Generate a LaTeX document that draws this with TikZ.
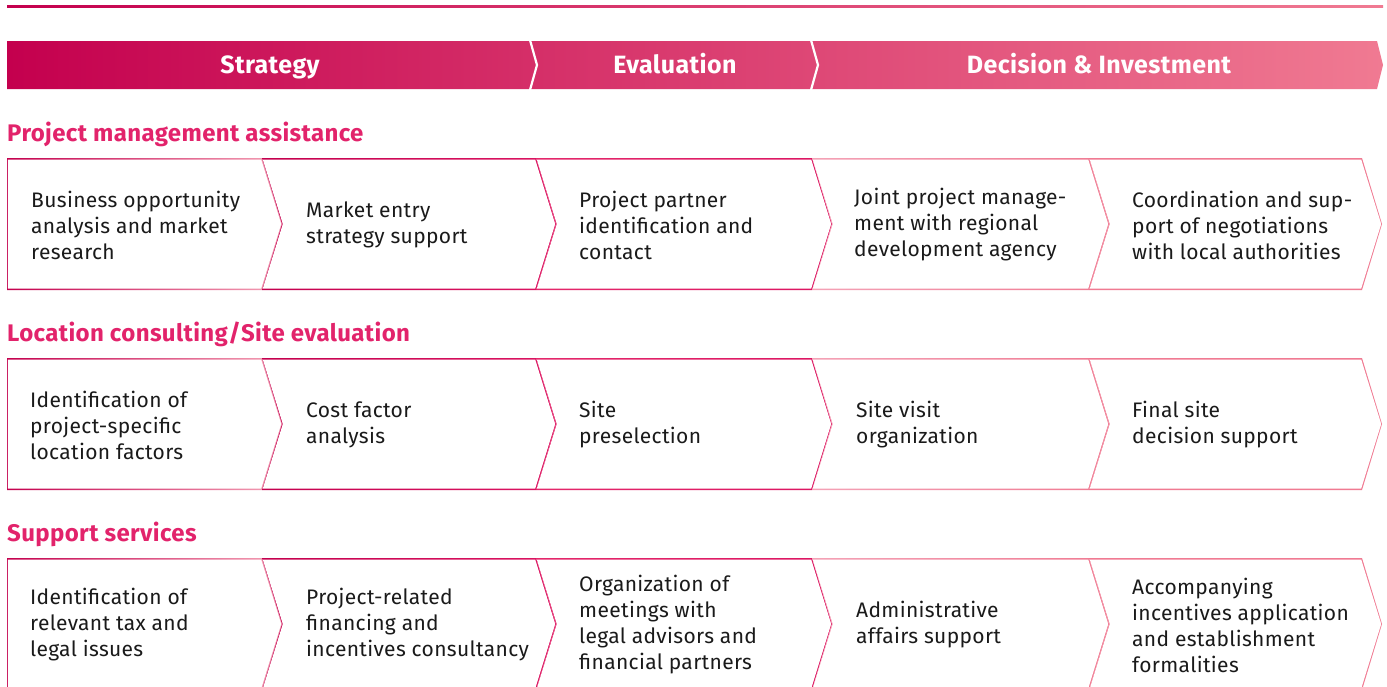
\documentclass[tikz,border=0pt]{standalone}
\usepackage{fontspec}
\setmainfont{Fira Sans}[LetterSpace=1.6]
\usetikzlibrary{positioning}

\definecolor{crim}{HTML}{C4004E}
\definecolor{mag}{HTML}{DC1562}
\definecolor{magl}{HTML}{E4286B}
\definecolor{pinkm}{HTML}{E62E6C}
\definecolor{blush}{HTML}{F4A2B6}
\definecolor{rose}{HTML}{F07A92}
\definecolor{sectpink}{HTML}{E2236B}
\definecolor{ink}{HTML}{1A1A1A}

\tikzset{
  phase label/.style={anchor=base, text=white, font=\fontsize{25}{28}\selectfont\bfseries, inner sep=0pt},
  section title/.style={anchor=base west, text=sectpink, font=\fontsize{24}{26}\selectfont\bfseries, inner sep=0pt},
  cell text/.style={anchor=west, align=left, text=ink, font=\fontsize{21}{26}\selectfont, inner sep=0pt}
}

% one chevron cell of a row: top, left x, right x, notch, left colour, right colour
\newcommand{\chevcell}[6]{%
  \shade[left color=#5, right color=#6]
    (#2,#1) -- (#3,#1) -- (#3+20,#1+66) -- (#3,#1+132) -- (#2,#1+132) -- (#2+#4,#1+66) -- cycle;
  \fill[white]
    (#2+0.8,#1+1.5) -- (#3-0.8,#1+1.5) -- (#3+19.2,#1+66) -- (#3-0.8,#1+130.5) -- (#2+0.8,#1+130.5) -- (#2+#4+0.8,#1+66) -- cycle;
}

\begin{document}
\begin{tikzpicture}[x=1pt,y=-1pt]
\clip (0,0) rectangle (1387,686);

% top rule
\shade[left color=crim, right color=rose] (7,5) rectangle (1383,7);

% phase bar
\shade[left color=crim, middle color=pinkm, right color=rose]
  (7,41) -- (1377,41) -- (1383,65) -- (1377,89) -- (7,89) -- cycle;
\draw[white, line width=2.2pt] (530,40) -- (537,65) -- (530,90);
\draw[white, line width=2.2pt] (811,40) -- (818,65) -- (811,90);
\node[phase label] (strategy) at (270,73) {Strategy};
\node[phase label] (evaluation) at (675,73) {Evaluation};
\node[phase label] (decision) at (1099,73) {Decision \& Investment};

% rows of cells
\foreach \rowy in {158,358,558} {
  \chevcell{\rowy}{7}{262}{0}{crim}{blush}
  \chevcell{\rowy}{262}{536}{20}{crim}{mag}
  \chevcell{\rowy}{536}{812}{20}{magl}{mag}
  \chevcell{\rowy}{812}{1089}{20}{blush}{rose}
  \chevcell{\rowy}{1089}{1362}{20}{rose}{rose}
}

% Project management assistance
\node[section title] (pmtitle) at (7,141) {Project management assistance};
\node[cell text] (pm1) at (31,225) {Business opportunity\\analysis and market\\research};
\node[cell text] (pm2) at (306,225) {Market entry\\strategy support};
\node[cell text] (pm3) at (579,225) {Project partner\\identification and\\contact};
\node[cell text] (pm4) at (854,225) {Joint project manage-\\ment with regional\\development agency};
\node[cell text] (pm5) at (1132,225) {Coordination and sup-\\port of negotiations\\with local authorities};

% Location consulting
\node[section title] (lctitle) at (7,341) {Location consulting/Site evaluation};
\node[cell text] (lc1) at (30,425) {Identification of\\project-specific\\location factors};
\node[cell text] (lc2) at (306,425) {Cost factor\\analysis};
\node[cell text] (lc3) at (579,425) {Site\\preselection};
\node[cell text] (lc4) at (856,425) {Site visit\\organization};
\node[cell text] (lc5) at (1132,425) {Final site\\decision support};

% Support services
\node[section title] (sstitle) at (7,541) {Support services};
\node[cell text] (ss1) at (30,625) {Identification of\\relevant tax and\\legal issues};
\node[cell text] (ss2) at (306,625) {Project-related\\financing and\\incentives consultancy};
\node[cell text] (ss3) at (579,625) {Organization of\\meetings with\\legal advisors and\\financial partners};
\node[cell text] (ss4) at (856,625) {Administrative\\affairs support};
\node[cell text] (ss5) at (1132,625) {Accompanying\\incentives application\\and establishment\\formalities};
\end{tikzpicture}
\end{document}
